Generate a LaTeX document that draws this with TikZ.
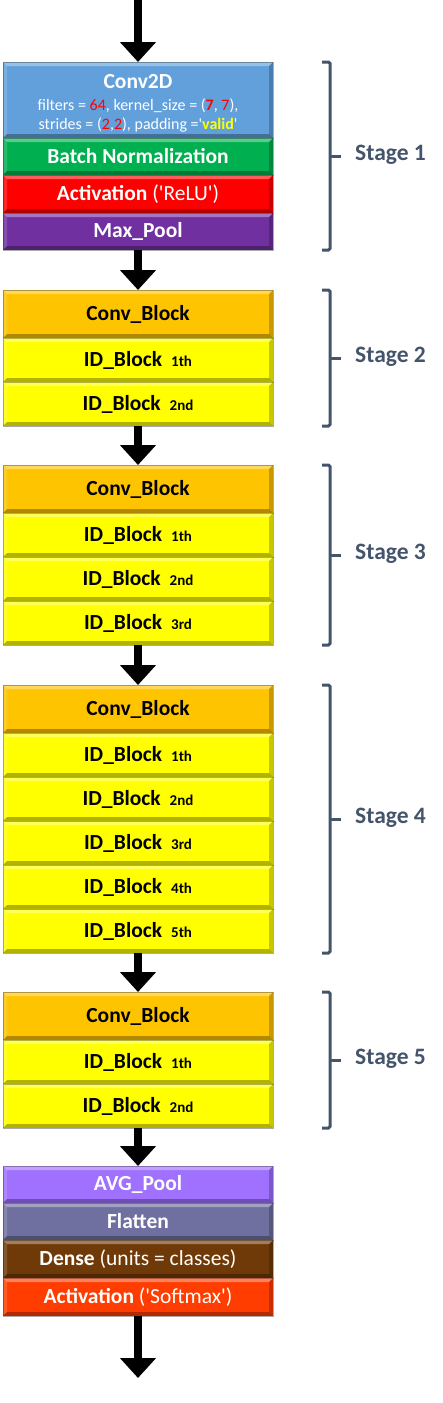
\documentclass[tikz,border=0pt]{standalone}
\usepackage{fontspec}
\setmainfont{Carlito}
\usetikzlibrary{arrows.meta,positioning,calc}
\definecolor{convblue}{RGB}{98,160,220}
\definecolor{bngreen}{RGB}{0,176,80}
\definecolor{relured}{RGB}{255,0,0}
\definecolor{poolpurple}{RGB}{112,48,160}
\definecolor{convorange}{RGB}{255,196,0}
\definecolor{idyellow}{RGB}{255,255,0}
\definecolor{avgviolet}{RGB}{160,112,255}
\definecolor{flatslate}{RGB}{112,112,160}
\definecolor{densebrown}{RGB}{112,58,8}
\definecolor{softorange}{RGB}{255,61,0}
\definecolor{stagegray}{RGB}{68,84,106}
\definecolor{numred}{RGB}{255,0,0}
\definecolor{validyellow}{RGB}{255,255,0}
\newcommand{\ordsub}[1]{\hspace{9pt}{\fontsize{15}{15}\selectfont\ifcase#1\or 1th\or 2nd\or 3rd\or 4th\or 5th\fi}}
\newcommand{\paramfont}{\fontsize{16}{19}\selectfont\mdseries}
\tikzset{
    bevel/.style={path picture={
        \fill[white, fill opacity=0.35] (path picture bounding box.north west) -- (path picture bounding box.north east)
            -- ([shift={(-4,-4)}]path picture bounding box.north east) -- ([shift={(4,-4)}]path picture bounding box.north west) -- cycle;
        \fill[white, fill opacity=0.15] (path picture bounding box.north west) -- ([shift={(4,-4)}]path picture bounding box.north west)
            -- ([shift={(4,4)}]path picture bounding box.south west) -- (path picture bounding box.south west) -- cycle;
        \fill[black, fill opacity=0.22] (path picture bounding box.north east) -- ([shift={(-4,-4)}]path picture bounding box.north east)
            -- ([shift={(-4,4)}]path picture bounding box.south east) -- (path picture bounding box.south east) -- cycle;
        \fill[black, fill opacity=0.3] (path picture bounding box.south west) -- (path picture bounding box.south east)
            -- ([shift={(-4,4)}]path picture bounding box.south east) -- ([shift={(4,4)}]path picture bounding box.south west) -- cycle;
    }},
    layer/.style={draw=black, draw opacity=0.3, line width=0.6pt, minimum width=270pt,
                  inner sep=0pt, outer sep=0pt, align=center, bevel,
                  font=\fontsize{21.5}{24}\selectfont\bfseries},
    thin layer/.style={layer, text=white, minimum height=37pt},
    conv block/.style={layer, fill=convorange, minimum height=48pt},
    id block/.style={layer, fill=idyellow, minimum height=44pt},
    flow/.style={-{Triangle[length=20pt,width=35pt]}, line width=8pt},
    bracket/.style={draw=stagegray, line width=3pt, rounded corners=1.5pt},
    stage label/.style={text=stagegray, inner sep=0pt, anchor=mid west,
                        font=\fontsize{23.5}{26}\selectfont\bfseries},
}
\begin{document}
\begin{tikzpicture}[x=1pt, y=1pt]
    \path[use as bounding box] (0,0) rectangle (442,-1403);

    % stage 1
    \node[layer, fill=convblue, text=white, minimum height=76pt, anchor=north,
          font=\paramfont] (s1-b0) at (138,-62)
        {{\fontsize{21.5}{24}\selectfont\bfseries\rule{0pt}{21pt}Conv2D}\\[3.5pt]
         filters = \textcolor{numred}{64}, kernel\_size = (\textcolor{numred}{\bfseries 7}, \textcolor{numred}{7}),\\
         strides = (\textcolor{numred}{2},\textcolor{numred}{2}), padding =\textquotesingle\textcolor{validyellow}{\bfseries valid}\textquotesingle};
    \node[thin layer, fill=bngreen, below=0pt of s1-b0] (s1-b1) {Batch Normalization};
    \node[thin layer, fill=relured, minimum height=38pt, below=0pt of s1-b1] (s1-b2)
        {Activation \mdseries(\textquotesingle ReLU\textquotesingle)};
    \node[thin layer, fill=poolpurple, below=0pt of s1-b2] (s1-b3) {Max\_Pool};

    % stages 2 to 5
    \foreach \s/\n/\prev/\gap in {2/2/s1-b3/40pt, 3/3/s2-b2/39pt, 4/5/s3-b3/40pt, 5/2/s4-b5/39pt} {
        \node[conv block, below=\gap of \prev] (s\s-b0) {Conv\_Block};
        \foreach \i [evaluate=\i as \j using int(\i-1)] in {1,...,\n}
            \node[id block, below=0pt of s\s-b\j] (s\s-b\i) {ID\_Block\ordsub{\i}};
        \draw[flow] (\prev.south) -- (s\s-b0.north);
    }

    % head
    \node[thin layer, fill=avgviolet, below=38pt of s5-b2] (avgpool) {AVG\_Pool};
    \node[thin layer, fill=flatslate, below=0pt of avgpool] (flatten) {Flatten};
    \node[thin layer, fill=densebrown, minimum height=38pt, below=0pt of flatten] (dense)
        {Dense \mdseries(units = classes)};
    \node[thin layer, fill=softorange, minimum height=38pt, below=0pt of dense] (softmax)
        {Activation \mdseries(\textquotesingle Softmax\textquotesingle)};

    \coordinate (input) at (138,0);
    \coordinate (output) at (138,-1378);
    \draw[flow] (input) -- (s1-b0.north);
    \draw[flow] (s5-b2.south) -- (avgpool.north);
    \draw[flow] (softmax.south) -- (output);

    % brackets
    \foreach \s/\n in {1/3, 2/2, 3/3, 4/5, 5/2} {
        \draw[bracket] ([xshift=49]s\s-b0.north east) -- ([xshift=57]s\s-b0.north east)
            -- ([xshift=57]s\s-b\n.south east) -- ([xshift=49]s\s-b\n.south east);
        \draw[bracket] ($([xshift=57]s\s-b0.north east)!0.5!([xshift=57]s\s-b\n.south east)$)
            coordinate (mid\s) -- ++(11,0) coordinate (tick\s);
        \node[stage label] (stage\s) at ([xshift=14,yshift=-2]tick\s) {Stage \s};
    }
\end{tikzpicture}
\end{document}
